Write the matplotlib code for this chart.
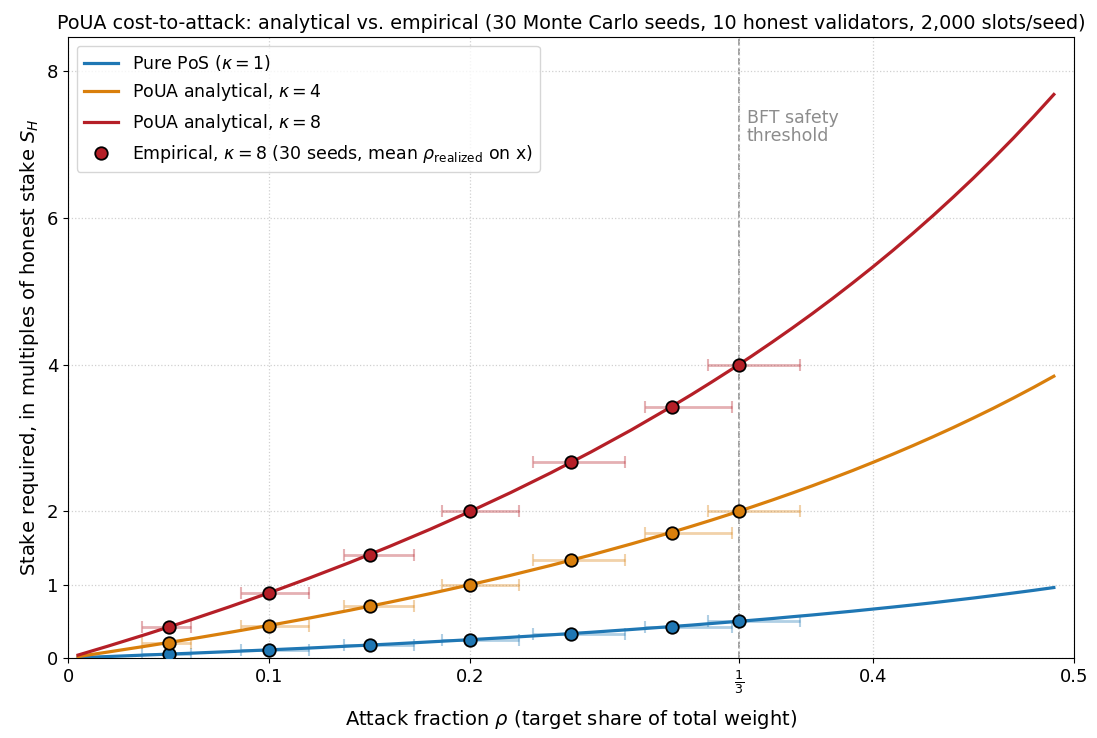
import matplotlib
matplotlib.use("Agg")
import matplotlib.pyplot as plt

# ---- data ----
# analytical curves, sampled along rho (finer where they bend most)
rho_curve = [0.005, 0.02, 0.04, 0.06, 0.08, 0.10, 0.12, 0.14, 0.16, 0.18, 0.20,
             0.22, 0.24, 0.26, 0.28, 0.30, 0.31, 0.32, 0.33, 0.34, 0.35, 0.36,
             0.37, 0.38, 0.39, 0.40, 0.41, 0.42, 0.43, 0.44, 0.45, 0.46, 0.47,
             0.48, 0.49]
pos_curve = [0.005, 0.020, 0.042, 0.064, 0.087, 0.111, 0.136, 0.163, 0.190, 0.220, 0.250,
             0.282, 0.316, 0.351, 0.389, 0.429, 0.449, 0.471, 0.493, 0.515, 0.538, 0.563,
             0.587, 0.613, 0.639, 0.667, 0.695, 0.724, 0.754, 0.786, 0.818, 0.852, 0.887,
             0.923, 0.961]
k4_curve = [0.020, 0.082, 0.167, 0.255, 0.348, 0.444, 0.545, 0.651, 0.762, 0.878, 1.000,
            1.128, 1.263, 1.405, 1.556, 1.714, 1.797, 1.882, 1.970, 2.061, 2.154, 2.250,
            2.349, 2.452, 2.557, 2.667, 2.780, 2.897, 3.018, 3.143, 3.273, 3.407, 3.547,
            3.692, 3.843]
k8_curve = [0.040, 0.163, 0.333, 0.511, 0.696, 0.889, 1.091, 1.302, 1.524, 1.756, 2.000,
            2.256, 2.526, 2.811, 3.111, 3.429, 3.594, 3.765, 3.940, 4.121, 4.308, 4.500,
            4.698, 4.903, 5.115, 5.333, 5.559, 5.793, 6.035, 6.286, 6.545, 6.815, 7.094,
            7.385, 7.686]

# empirical points (mean realised rho on x) and spread of realised rho
rho_emp = [0.05, 0.10, 0.15, 0.20, 0.25, 0.30, 1 / 3]
rho_lo = [0.037, 0.086, 0.137, 0.186, 0.231, 0.287, 0.318]
rho_hi = [0.061, 0.120, 0.172, 0.224, 0.277, 0.330, 0.364]
pos_emp = [0.053, 0.111, 0.176, 0.25, 0.333, 0.429, 0.50]
k4_emp = [0.21, 0.44, 0.71, 1.00, 1.33, 1.71, 2.00]
k8_emp = [0.42, 0.89, 1.41, 2.00, 2.67, 3.43, 4.00]

xticks = [0, 0.1, 0.2, 1 / 3, 0.4, 0.5]
xticklabels = ["0", "0.1", "0.2", r"$\frac{1}{3}$", "0.4", "0.5"]
yticks = [0, 1, 2, 4, 6, 8]

blue = "#1f77b4"
orange = "#d97f0c"
red = "#b51f27"

fig = plt.figure(figsize=(10.97, 7.38), dpi=100)
ax = fig.add_axes([0.062, 0.1084, 0.917, 0.8415])

ax.plot(rho_curve, pos_curve, color=blue, lw=2.3, label=r"Pure PoS ($\kappa=1$)", zorder=3)
ax.plot(rho_curve, k4_curve, color=orange, lw=2.3, label=r"PoUA analytical, $\kappa=4$", zorder=3)
ax.plot(rho_curve, k8_curve, color=red, lw=2.3, label=r"PoUA analytical, $\kappa=8$", zorder=3)

xerr = [[e - l for e, l in zip(rho_emp, rho_lo)], [h - e for e, h in zip(rho_emp, rho_hi)]]
for ys, c in [(pos_emp, blue), (k4_emp, orange), (k8_emp, red)]:
    ax.errorbar(rho_emp, ys, xerr=xerr, fmt="none", ecolor=c, alpha=0.35,
                elinewidth=2, capsize=4, capthick=1.5, zorder=2)
ax.plot(rho_emp, pos_emp, "o", color=blue, mec="black", mew=1.3, ms=9, zorder=4)
ax.plot(rho_emp, k4_emp, "o", color=orange, mec="black", mew=1.3, ms=9, zorder=4)
ax.plot(rho_emp, k8_emp, "o", color=red, mec="black", mew=1.3, ms=9, zorder=4,
        label=r"Empirical, $\kappa=8$ (30 seeds, mean $\rho_{\mathrm{realized}}$ on x)")

# BFT threshold
ax.axvline(1 / 3, color="#999999", ls="--", lw=1.3, zorder=1)
ax.text(1 / 3 + 0.004, 7.49, "BFT safety\nthreshold", color="#8c8c8c", fontsize=12.5,
        va="top", ha="left", linespacing=1.0)

ax.set_xlim(0, 0.5)
ax.set_ylim(0, 8.47)
ax.set_xticks(xticks)
ax.set_xticklabels(xticklabels)
ax.set_yticks(yticks)
ax.tick_params(labelsize=13)
ax.grid(True, ls=":", color="#d0d0d0", lw=0.9)

ax.set_xlabel(r"Attack fraction $\rho$ (target share of total weight)", fontsize=14, labelpad=9)
ax.set_ylabel(r"Stake required, in multiples of honest stake $S_H$", fontsize=14)
ax.set_title("PoUA cost-to-attack: analytical vs. empirical (30 Monte Carlo seeds, "
             "10 honest validators, 2,000 slots/seed)", fontsize=13.8)
ax.legend(loc="upper left", fontsize=12.5)

fig.savefig("out.png", dpi=100)
